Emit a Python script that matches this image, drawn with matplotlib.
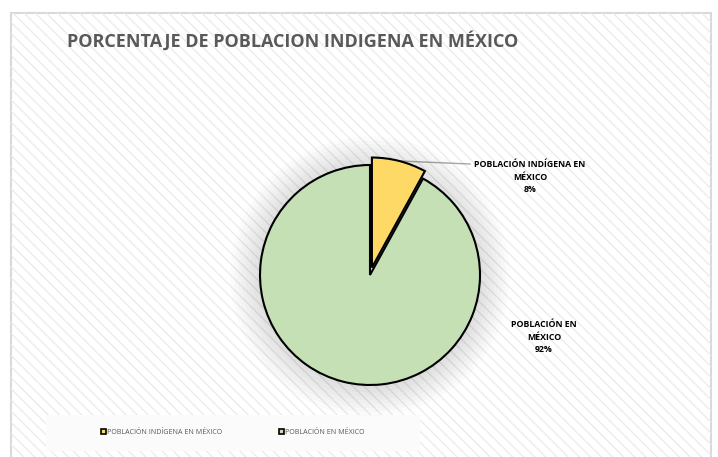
import matplotlib.pyplot as plt
from matplotlib.patches import Rectangle, Circle
from matplotlib.lines import Line2D

# Datos del gráfico
categorias = ['POBLACIÓN INDÍGENA EN MÉXICO', 'POBLACIÓN EN MÉXICO']
porcentajes = [8, 92]
colores = ['#FFD966', '#C5E0B4']
etiquetas = ['POBLACIÓN INDÍGENA EN\nMÉXICO\n8%', 'POBLACIÓN EN\nMÉXICO\n92%']
titulo = 'PORCENTAJE DE POBLACION INDIGENA EN MÉXICO'

W, H = 718, 457
plt.rcParams['font.family'] = ['Open Sans', 'DejaVu Sans']
plt.rcParams['hatch.color'] = '#ececec'
fig = plt.figure(figsize=(W / 100, H / 100), dpi=100)

# Fondo con rayas diagonales y borde
fondo = fig.add_axes([0, 0, 1, 1])
fondo.set_xlim(0, W)
fondo.set_ylim(H, 0)
fondo.axis('off')
fondo.add_patch(Rectangle((11, 13), 700, 446, facecolor='white', edgecolor='#d9d9d9', lw=1.5))
fondo.add_patch(Rectangle((11, 13), 700, 446, facecolor='none', edgecolor='#ececec',
                          hatch='\\\\\\', lw=0))

# Caja de la leyenda
fondo.add_patch(Rectangle((46, 415), 374, 36, facecolor='#fbfbfb', edgecolor='none'))

# Título
fondo.text(67, 41, titulo, fontsize=13.0, fontweight='bold', color='#595959', va='center')

# Ejes del pastel
cx, cy, r = 370, 275, 110
lado = 140
ax = fig.add_axes([(cx - lado) / W, (H - cy - lado) / H, 2 * lado / W, 2 * lado / H])
ax.axis('off')

# Sombra difusa
for k in range(8):
    ax.add_patch(Circle((0, -0.01), 1.27 - k * 0.035, color='black', alpha=0.016,
                        lw=0, clip_on=False))

wedges, _ = ax.pie(porcentajes, colors=colores, startangle=90, counterclock=False,
                   explode=[0.07, 0], radius=1,
                   wedgeprops=dict(edgecolor='black', linewidth=1.5))
lim = lado / r
ax.set_xlim(-lim, lim)
ax.set_ylim(-lim, lim)
ax.set_aspect('equal')

# Etiquetas de datos
fondo.text(530, 177, etiquetas[0], fontsize=6.3, fontweight='bold', ha='center',
           va='center', linespacing=1.5, color='black')
fondo.text(544, 337, etiquetas[1], fontsize=6.3, fontweight='bold', ha='center',
           va='center', linespacing=1.5, color='black')
fondo.add_line(Line2D([400, 470], [161, 164], color='#a6a6a6', lw=1))

# Leyenda
for x, col, nom in [(104, colores[0], categorias[0]), (282, colores[1], categorias[1])]:
    fondo.add_patch(Rectangle((x - 3, 429), 5, 5, facecolor=col, edgecolor='black', lw=1.2))
    fondo.text(x + 3, 432, nom, fontsize=5.1, color='#595959', va='center')

fig.savefig('out.png', dpi=100)
